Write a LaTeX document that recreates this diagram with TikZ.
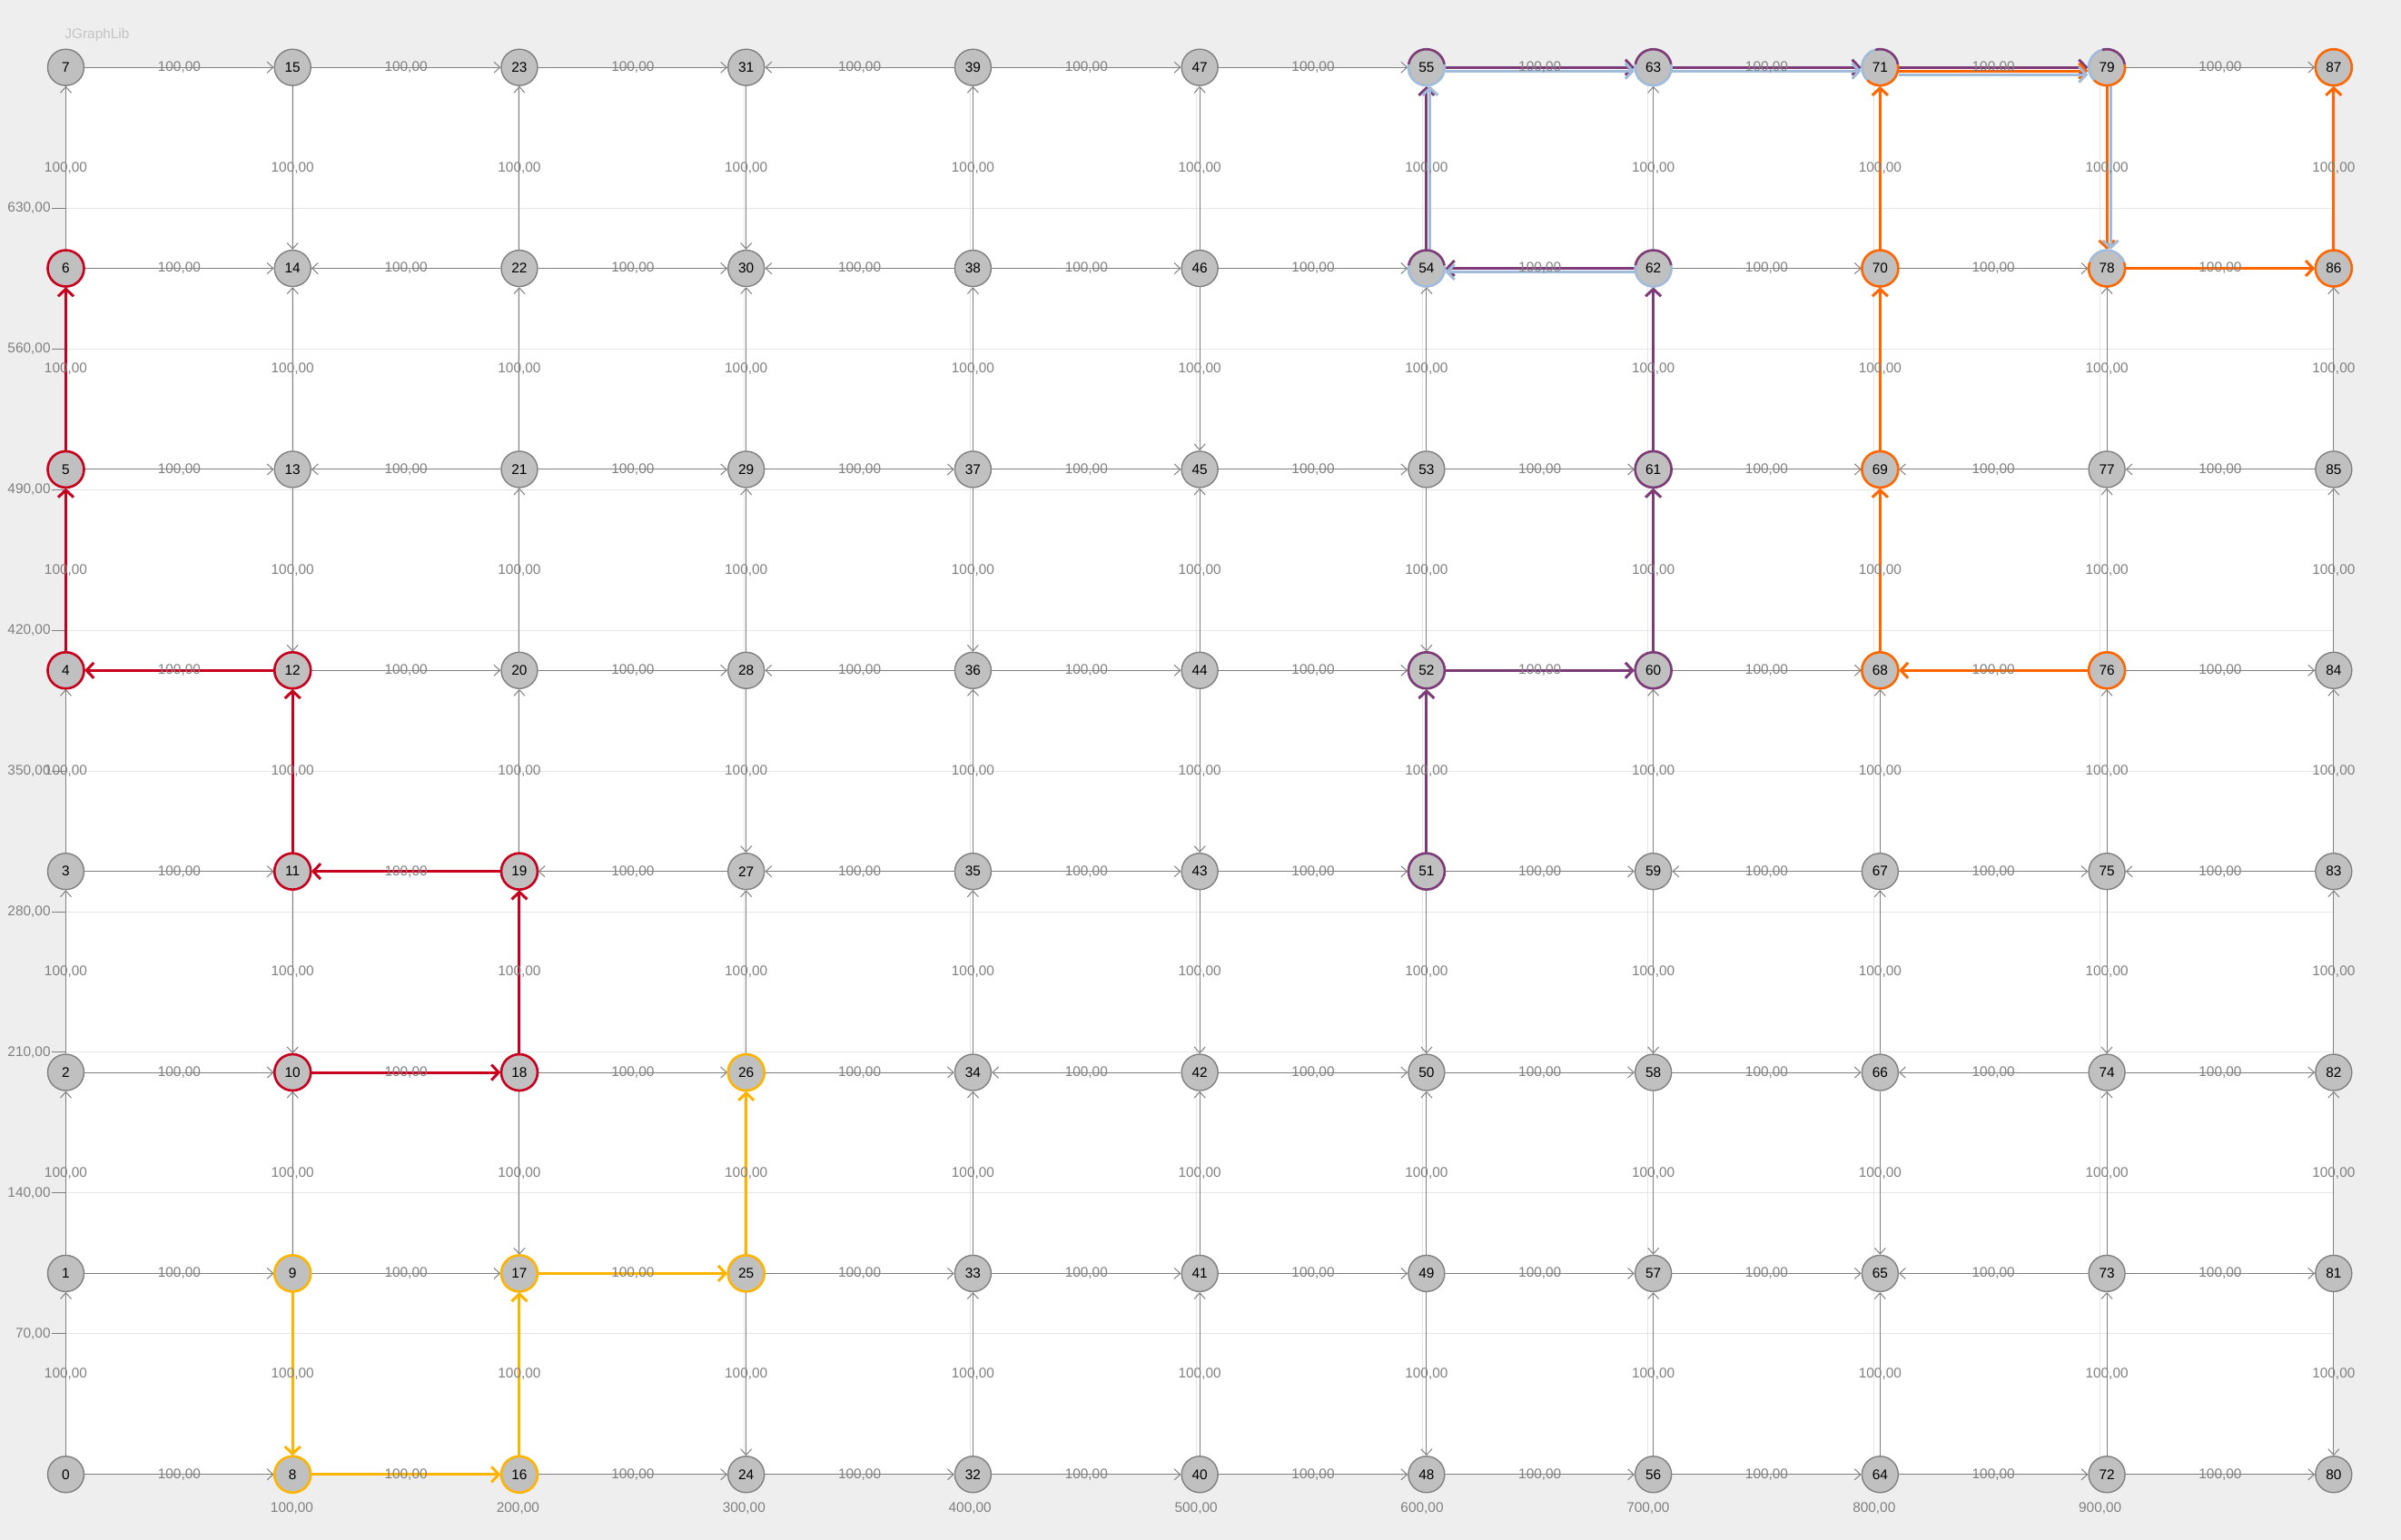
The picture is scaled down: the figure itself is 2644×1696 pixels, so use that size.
\documentclass[tikz,border=0pt]{standalone}
\usepackage{fontspec}
\setmainfont{Liberation Sans}
\usetikzlibrary{arrows.meta}
\definecolor{bgc}{HTML}{EEEEEE}
\definecolor{gridc}{HTML}{E6E6E6}
\definecolor{edgec}{HTML}{808080}
\definecolor{nodefill}{HTML}{C0C0C0}
\definecolor{nodeborder}{HTML}{808080}
\definecolor{cRed}{HTML}{C8001E}
\definecolor{cYel}{HTML}{FFB400}
\definecolor{cPur}{HTML}{7D3C78}
\definecolor{cBlu}{HTML}{A0BCDA}
\definecolor{cOra}{HTML}{FF6600}
\definecolor{logoc}{HTML}{C4C4C4}
\begin{document}
\begin{tikzpicture}[x=0.5pt,y=0.5pt,
  font=\fontsize{7.7pt}{9pt}\selectfont,
  vtx/.style={circle,fill=nodefill,draw=nodeborder,line width=0.7pt,minimum size=20pt,inner sep=0pt,text=black},
  edge/.style={draw=edgec,line width=0.5pt,-{Straight Barb[length=3.3pt,width=6pt]}},
  elab/.style={text=edgec,inner sep=0pt,midway},
  cedge/.style={line width=1.5pt,-{Straight Barb[length=4pt,width=8.5pt]}},
  ring/.style={line width=1.3pt},
  axlab/.style={text=edgec,inner sep=0pt}]
\useasboundingbox (0,0) rectangle (2644,1696);
\fill[bgc] (0,0) rectangle (2644,1696);
\fill[white] (72.5,72.2) rectangle (2569.8,1621.8);
% grid
\foreach \v in {70,140,...,630}{
  \draw[gridc,line width=0.5pt] (72.5,{72.2+2.2135*\v}) -- (2569.8,{72.2+2.2135*\v});
  \draw[edgec,line width=0.5pt] (57,{72.2+2.2135*\v}) -- (72.5,{72.2+2.2135*\v});
  \node[axlab,anchor=east] (yl\v) at (56,{72.2+2.2135*\v}) {\v,00};
}
\foreach \k in {1,...,9}{
  \draw[gridc,line width=0.5pt] ({72.6+248.9*\k},72.2) -- ({72.6+248.9*\k},1621.8);
  \node[axlab] (xl\k) at ({72.6+248.9*\k},35.3) {\k00,00};
}
\node[anchor=west,text=logoc,inner sep=0pt] (logo) at (71,1657) {JGraphLib};
% nodes
\foreach \c in {0,...,10}{\foreach \r in {0,...,7}{%
  \pgfmathtruncatemacro{\n}{8*\c+\r}%
  \node[vtx] (n\n) at ({72.5+249.73*\c},{72.2+221.37*\r}) {\n};
}}
% gray edges
\foreach \a/\b in {0/8,16/24,24/32,32/40,40/48,48/56,56/64,64/72,72/80,
  1/9,9/17,25/33,33/41,41/49,49/57,57/65,73/65,73/81,
  2/10,18/26,26/34,42/34,42/50,50/58,58/66,74/66,74/82,
  3/11,27/19,35/27,35/43,43/51,51/59,67/59,67/75,83/75,
  12/20,20/28,36/28,36/44,44/52,60/68,76/84,
  5/13,21/13,21/29,29/37,37/45,45/53,53/61,61/69,77/69,85/77,
  6/14,22/14,22/30,38/30,38/46,46/54,62/70,70/78,
  7/15,15/23,23/31,39/31,39/47,47/55,79/87,
  0/1,1/2,2/3,3/4,6/7,
  9/10,11/10,13/12,13/14,15/14,
  18/17,19/20,20/21,21/22,22/23,
  25/24,26/27,28/27,28/29,29/30,31/30,
  32/33,33/34,34/35,35/36,37/36,37/38,38/39,
  40/41,41/42,43/42,44/43,44/45,46/45,46/47,
  49/48,49/50,51/50,53/52,53/54,
  56/57,58/57,59/58,59/60,62/63,
  64/65,66/65,66/67,67/68,
  72/73,73/74,75/74,75/76,76/77,77/78,
  81/80,81/82,82/83,83/84,84/85,85/86}
  \draw[edge] (n\a) -- node[elab]{100,00} (n\b);
% coloured paths
\foreach \a/\b in {9/8,8/16,16/17,17/25,25/26}
  \draw[cedge,cYel] (n\a) -- (n\b);
\foreach \a/\b in {10/18,18/19,19/11,11/12,12/4,4/5,5/6}
  \draw[cedge,cRed] (n\a) -- (n\b);
\foreach \a/\b in {51/52,52/60,60/61,61/62,62/54,54/55,55/63,63/71,71/79}
  \draw[cedge,cPur] (n\a) -- (n\b);
\foreach \a/\b in {76/68,68/69,69/70,70/71,79/78,78/86,86/87}
  \draw[cedge,cOra] (n\a) -- (n\b);
\draw[cedge,cOra,transform canvas={yshift=-2pt}] (n71) -- (n79);
\draw[cedge,cBlu,transform canvas={yshift=-2pt}] (n62) -- (n54);
\draw[cedge,cBlu,transform canvas={xshift=2pt}] (n54) -- (n55);
\draw[cedge,cBlu,transform canvas={yshift=-2pt}] (n55) -- (n63);
\draw[cedge,cBlu,transform canvas={yshift=-2pt}] (n63) -- (n71);
\draw[cedge,cBlu,transform canvas={yshift=-4pt}] (n71) -- (n79);
\draw[cedge,cBlu,transform canvas={xshift=2pt}] (n79) -- (n78);
\foreach \a/\b in {9/8,8/16,16/17,17/25,25/26,10/18,18/19,19/11,11/12,12/4,4/5,5/6,
  51/52,52/60,60/61,61/62,62/54,54/55,55/63,63/71,71/79,76/68,68/69,69/70,70/71,79/78,78/86,86/87}
  \path (n\a) -- node[elab]{100,00} (n\b);
% coloured rings
\foreach \n in {9,8,16,17,25,26} \draw[ring,cYel] (n\n.center) circle[radius=10pt];
\foreach \n in {10,18,19,11,12,4,5,6} \draw[ring,cRed] (n\n.center) circle[radius=10pt];
\foreach \n in {51,52,60,61} \draw[ring,cPur] (n\n.center) circle[radius=10pt];
\foreach \n in {76,68,69,70,86,87} \draw[ring,cOra] (n\n.center) circle[radius=10pt];
\foreach \n in {62,54,55,63}{
  \draw[ring,cBlu] (n\n.center) ++(170:10pt) arc[start angle=170,end angle=370,radius=10pt];
  \draw[ring,cPur] (n\n.center) ++(10:10pt) arc[start angle=10,end angle=170,radius=10pt];
}
\foreach \n in {71,79}{
  \draw[ring,cOra] (n\n.center) ++(225:10pt) arc[start angle=225,end angle=370,radius=10pt];
  \draw[ring,cBlu] (n\n.center) ++(105:10pt) arc[start angle=105,end angle=225,radius=10pt];
  \draw[ring,cPur] (n\n.center) ++(10:10pt) arc[start angle=10,end angle=105,radius=10pt];
}
\draw[ring,cOra] (n78.center) ++(160:10pt) arc[start angle=160,end angle=380,radius=10pt];
\draw[ring,cBlu] (n78.center) ++(20:10pt) arc[start angle=20,end angle=160,radius=10pt];
\end{tikzpicture}
\end{document}
